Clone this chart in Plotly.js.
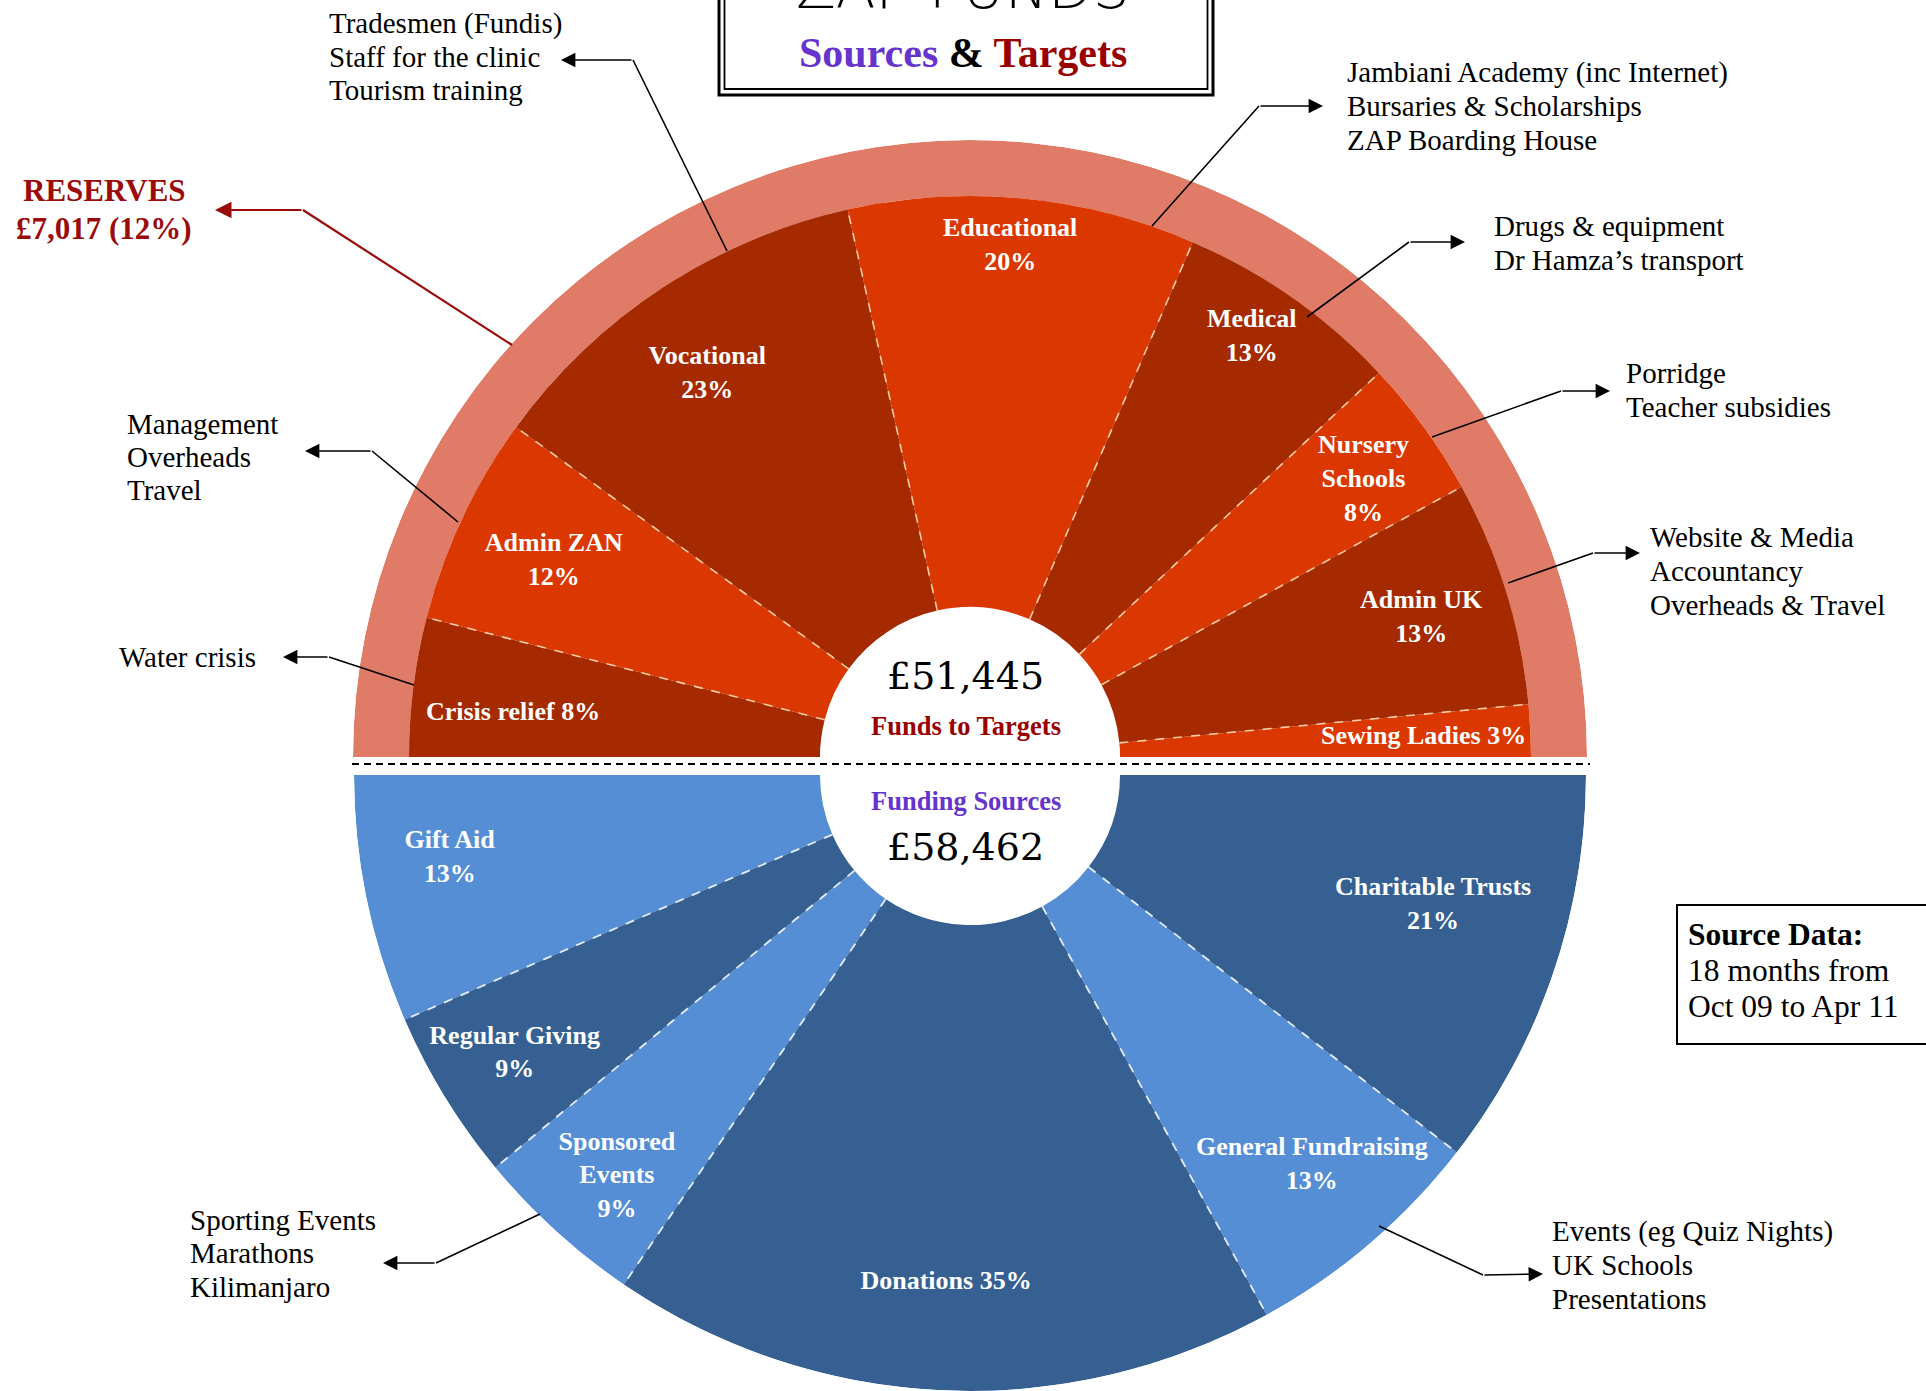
<!DOCTYPE html>
<html><head><meta charset="utf-8">
<script src="https://cdn.plot.ly/plotly-3.0.1.min.js"></script>
<style>html,body{margin:0;padding:0;background:#fff}#chart{width:1926px;height:1391px}</style>
</head><body><div id="chart"></div>
<script>
// ---------------- DATA ----------------
const targetNames  = ['Crisis relief','Admin ZAN','Vocational','Educational','Medical','Nursery Schools','Admin UK','Sewing Ladies'];
const targetPct    = [8, 12, 23, 20, 13, 8, 13, 3];
const targetLabels = ['Crisis relief 8%','Admin ZAN<br>12%','Vocational<br>23%','Educational<br>20%','Medical<br>13%','Nursery<br>Schools<br>8%','Admin UK<br>13%','Sewing Ladies 3%'];

const sourceNames  = ['Gift Aid','Regular Giving','Sponsored Events','Donations','General Fundraising','Charitable Trusts'];
const sourcePct    = [13, 9, 9, 35, 13, 21];
const sourceLabels = ['Gift Aid<br>13%','Regular Giving<br>9%','Sponsored<br>Events<br>9%','Donations 35%','General Fundraising<br>13%','Charitable Trusts<br>21%'];

const totalTargets = '£51,445';
const totalSources = '£58,462';
const reservesLines = ['RESERVES', '£7,017 (12%)'];

const noteTexts = {
  Vocational: ['Tradesmen (Fundis)', 'Staff for the clinic', 'Tourism training'],
  Educational: ['Jambiani Academy (inc Internet)', 'Bursaries &amp; Scholarships', 'ZAP Boarding House'],
  Medical: ['Drugs &amp; equipment', 'Dr Hamza’s transport'],
  Nursery: ['Porridge', 'Teacher subsidies'],
  AdminUK: ['Website &amp; Media', 'Accountancy', 'Overheads &amp; Travel'],
  AdminZAN: ['Management', 'Overheads', 'Travel'],
  Crisis: ['Water crisis'],
  Sponsored: ['Sporting Events', 'Marathons', 'Kilimanjaro'],
  General: ['Events (eg Quiz Nights)', 'UK Schools', 'Presentations']
};
const sourceDataLines = ['<b>Source Data:</b>', '18 months from', 'Oct 09 to Apr 11'];

// ---------------- STYLE / POSITIONS ----------------
const W = 1926, H = 1391;
const px = x => x / W, py = y => 1 - y / H;
const serif = 'Liberation Serif, Times New Roman, serif';

const darkRed = '#A52A00', brightRed = '#DB3700', ringColor = '#E07B67';
const lightBlue = '#558ED5', darkBlue = '#366092';
const targetColors = targetPct.map((_, i) => i % 2 === 0 ? darkRed : brightRed);
const sourceColors = sourcePct.map((_, i) => i % 2 === 0 ? lightBlue : darkBlue);

const R = 617, Rin = 561, hole = 150, Rsrc = 616;
// label placement (radius and small angular nudge, degrees)
const targetLabelR   = [459, 460, 464, 512, 505, 481, 472, 454];
const targetLabelDth = [1.8, 0, 1.2, 0.9, 1.2, -0.9, 0, -0.3];
const sourceLabelR   = [527, 534, 535, 508, 519, 481];
const sourceLabelDth = [-2.6, 0, 1.0, 0, 0.7, 3.2];

function cumul(arr) { const c = []; let s = 0; arr.forEach(v => { c.push(s); s += v; }); return c; }
const tSum = targetPct.reduce((a, b) => a + b, 0);
const sSum = sourcePct.reduce((a, b) => a + b, 0);
const tCum = cumul(targetPct), sCum = cumul(sourcePct);
const tTheta = targetPct.map((v, i) => 180 - 180 * (tCum[i] + v / 2) / tSum);
const tWidth = targetPct.map(v => 180 * v / tSum);
const sTheta = sourcePct.map((v, i) => 180 + 180 * (sCum[i] + v / 2) / sSum);
const sWidth = sourcePct.map(v => 180 * v / sSum);

function sepLines(cum, total, sign, r0, r1) {
  const r = [], th = [];
  cum.slice(1).forEach(c => { const a = 180 + sign * 180 * c / total; r.push(r0, r1, null); th.push(a, a, null); });
  return { r, th };
}
const tSep = sepLines(tCum, tSum, -1, hole, Rin);
const sSep = sepLines(sCum, sSum, 1, hole, Rsrc);

const labelFont = { family: serif, size: 26, color: '#ffffff', weight: 'bold' };

const traces = [
  { type: 'barpolar', subplot: 'polar', theta: [90], width: [180], r: [R - Rin], base: [Rin],
    marker: { color: ringColor, line: { width: 0 } }, hoverinfo: 'skip', name: 'Reserves' },
  { type: 'barpolar', subplot: 'polar', theta: tTheta, width: tWidth, r: targetPct.map(() => Rin - hole), base: targetPct.map(() => hole),
    marker: { color: targetColors, line: { width: 0 } }, text: targetNames, hoverinfo: 'text', name: 'Targets' },
  { type: 'scatterpolar', subplot: 'polar', mode: 'lines', r: tSep.r, theta: tSep.th, connectgaps: false,
    line: { color: '#F6CDA6', width: 1.6, dash: 'dash' }, hoverinfo: 'skip' },
  { type: 'scatterpolar', subplot: 'polar', mode: 'text', r: targetLabelR, theta: tTheta.map((t, i) => t + targetLabelDth[i]),
    text: targetLabels, cliponaxis: false, textfont: labelFont, hoverinfo: 'skip' },
  { type: 'barpolar', subplot: 'polar2', theta: sTheta, width: sWidth, r: sourcePct.map(() => Rsrc - hole), base: sourcePct.map(() => hole),
    marker: { color: sourceColors, line: { width: 0 } }, text: sourceNames, hoverinfo: 'text', name: 'Sources' },
  { type: 'scatterpolar', subplot: 'polar2', mode: 'lines', r: sSep.r, theta: sSep.th, connectgaps: false,
    line: { color: '#E4ECF7', width: 1.8, dash: 'dash' }, hoverinfo: 'skip' },
  { type: 'scatterpolar', subplot: 'polar2', mode: 'text', r: sourceLabelR, theta: sTheta.map((t, i) => t + sourceLabelDth[i]),
    text: sourceLabels, cliponaxis: false, textfont: labelFont, hoverinfo: 'skip' }
];

const hiddenAxes = () => ({
  radialaxis: { range: [0, R], showline: false, showgrid: false, showticklabels: false, ticks: '' },
  angularaxis: { showline: false, showgrid: false, showticklabels: false, ticks: '' },
  bgcolor: 'rgba(0,0,0,0)'
});

// callouts: start point on wedge, elbow, arrow tip, text anchor (left x, centre y)
const callouts = [
  { s: [727, 251], e: [633, 60], t: [561, 60], tx: 327, ty: 57, lines: noteTexts.Vocational },
  { s: [1152, 226], e: [1259, 106], t: [1323, 106], tx: 1345, ty: 106, lines: noteTexts.Educational },
  { s: [1307, 317], e: [1409, 242], t: [1465, 242], tx: 1492, ty: 243, lines: noteTexts.Medical },
  { s: [1432, 437], e: [1561, 391], t: [1610, 391], tx: 1624, ty: 390, lines: noteTexts.Nursery },
  { s: [1508, 583], e: [1593, 553], t: [1640, 553], tx: 1648, ty: 571, lines: noteTexts.AdminUK },
  { s: [458, 522], e: [372, 451], t: [305, 451], tx: 125, ty: 457, lines: noteTexts.AdminZAN },
  { s: [414, 685], e: [329, 657], t: [283, 657], tx: 117, ty: 657, lines: noteTexts.Crisis },
  { s: [540, 1214], e: [436, 1263], t: [383, 1263], tx: 188, ty: 1253, lines: noteTexts.Sponsored },
  { s: [1379, 1226], e: [1483, 1275], t: [1543, 1274], tx: 1550, ty: 1265, lines: noteTexts.General }
];
const noteSpacing = 33.5;

const shapes = [];
const annotations = [];

function textLines(lines, x, cy, spacing, xanchor, font) {
  lines.forEach((ln, i) => {
    const y = cy + (i - (lines.length - 1) / 2) * spacing;
    annotations.push({ xref: 'paper', yref: 'paper', x: px(x), y: py(y), xanchor: xanchor, yanchor: 'middle',
      text: ln, showarrow: false, font: font });
  });
}

callouts.forEach(c => {
  shapes.push({ type: 'line', xref: 'paper', yref: 'paper', x0: px(c.s[0]), y0: py(c.s[1]), x1: px(c.e[0]), y1: py(c.e[1]),
    line: { color: '#000', width: 1.6 }, layer: 'above' });
  annotations.push({ xref: 'paper', yref: 'paper', x: px(c.t[0]), y: py(c.t[1]), ax: c.e[0] - c.t[0], ay: c.e[1] - c.t[1],
    text: '', showarrow: true, arrowhead: 2, arrowsize: 1.8, arrowwidth: 1.6, arrowcolor: '#000', standoff: 0 });
  textLines(c.lines, c.tx, c.ty, noteSpacing, 'left', { family: serif, size: 29, color: '#000' });
});

// reserves callout (red)
const resRed = '#9B0B0B';
shapes.push({ type: 'line', xref: 'paper', yref: 'paper', x0: px(512), y0: py(345), x1: px(303), y1: py(210),
  line: { color: resRed, width: 2.2 }, layer: 'above' });
annotations.push({ xref: 'paper', yref: 'paper', x: px(215), y: py(210), ax: 303 - 215, ay: 0, text: '', showarrow: true,
  arrowhead: 2, arrowsize: 1.5, arrowwidth: 2.2, arrowcolor: resRed, standoff: 0 });
textLines(reservesLines, 104, 209, 38, 'center', { family: serif, size: 31, color: resRed, weight: 'bold' });

// centre white disc + divider
shapes.push({ type: 'circle', xref: 'paper', yref: 'paper', x0: px(820), x1: px(1120), y0: py(914), y1: py(610),
  fillcolor: '#ffffff', line: { width: 0 }, layer: 'above' });
shapes.push({ type: 'line', xref: 'paper', yref: 'paper', x0: px(352), x1: px(1590), y0: py(764), y1: py(764),
  line: { color: '#000', width: 2, dash: '7px,5px' }, layer: 'above' });

// title box
shapes.push({ type: 'rect', xref: 'paper', yref: 'paper', x0: px(719), x1: px(1213), y0: py(95), y1: py(-20),
  line: { color: '#000', width: 3 }, fillcolor: 'rgba(0,0,0,0)', layer: 'above' });
shapes.push({ type: 'rect', xref: 'paper', yref: 'paper', x0: px(724.5), x1: px(1207.5), y0: py(89), y1: py(-20),
  line: { color: '#000', width: 1.8 }, fillcolor: 'rgba(0,0,0,0)', layer: 'above' });
annotations.push({ xref: 'paper', yref: 'paper', x: px(963), y: py(-12), xanchor: 'center', yanchor: 'middle',
  text: 'ZAP FUNDS', showarrow: false, font: { family: 'DejaVu Sans, sans-serif', size: 58, color: '#000', weight: 300 } });
annotations.push({ xref: 'paper', yref: 'paper', x: px(963), y: py(53), xanchor: 'center', yanchor: 'middle',
  text: '<span style="color:#6633CC">Sources</span> &amp; <span style="color:#990000">Targets</span>', showarrow: false,
  font: { family: serif, size: 42, color: '#000', weight: 'bold' } });

// centre texts
annotations.push({ xref: 'paper', yref: 'paper', x: px(966), y: py(676), xanchor: 'center', yanchor: 'middle',
  text: totalTargets, showarrow: false, font: { family: 'DejaVu Serif, serif', size: 38, color: '#000' } });
annotations.push({ xref: 'paper', yref: 'paper', x: px(966), y: py(726), xanchor: 'center', yanchor: 'middle',
  text: 'Funds to Targets', showarrow: false, font: { family: serif, size: 26.5, color: '#990000', weight: 'bold' } });
annotations.push({ xref: 'paper', yref: 'paper', x: px(966), y: py(801), xanchor: 'center', yanchor: 'middle',
  text: 'Funding Sources', showarrow: false, font: { family: serif, size: 26.5, color: '#6633CC', weight: 'bold' } });
annotations.push({ xref: 'paper', yref: 'paper', x: px(966), y: py(847), xanchor: 'center', yanchor: 'middle',
  text: totalSources, showarrow: false, font: { family: 'DejaVu Serif, serif', size: 38, color: '#000' } });

// source data box
shapes.push({ type: 'rect', xref: 'paper', yref: 'paper', x0: px(1677), x1: px(1945), y0: py(1044), y1: py(905),
  line: { color: '#000', width: 2 }, fillcolor: 'rgba(0,0,0,0)', layer: 'above' });
textLines(sourceDataLines, 1686, 970, 36, 'left', { family: serif, size: 31.5, color: '#000' });

const layout = {
  width: W, height: H,
  margin: { l: 0, r: 0, t: 0, b: 0 },
  paper_bgcolor: '#ffffff',
  showlegend: false,
  polar: Object.assign({ domain: { x: [px(353), px(1587)], y: [py(757), py(140)] }, sector: [0, 180] }, hiddenAxes()),
  polar2: Object.assign({ domain: { x: [px(354), px(1586)], y: [0, py(775)] }, sector: [180, 360] }, hiddenAxes()),
  shapes: shapes,
  annotations: annotations
};
layout.polar2.radialaxis.range = [0, Rsrc];

Plotly.newPlot('chart', traces, layout, { displayModeBar: false, staticPlot: true });
</script>
</body></html>
